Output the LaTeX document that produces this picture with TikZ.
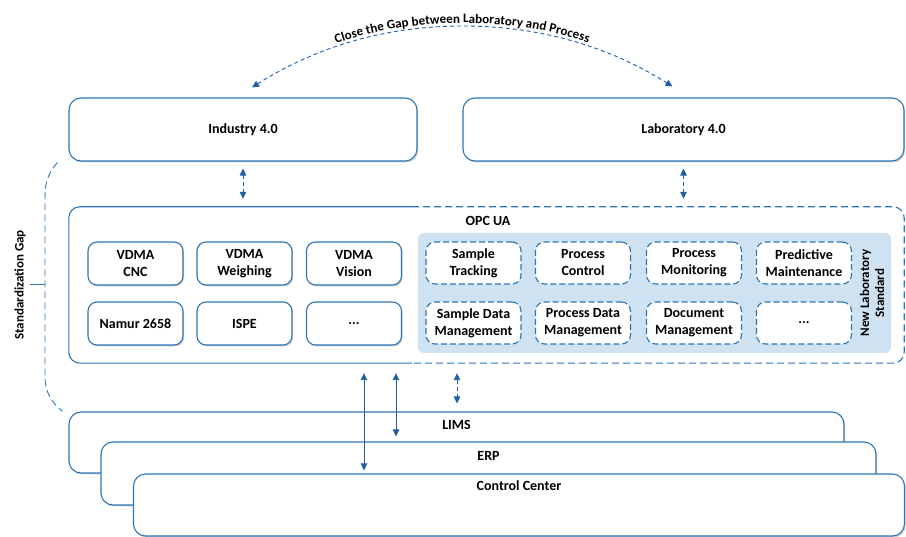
\documentclass[tikz,border=0pt]{standalone}
\usepackage{fontspec}
\setmainfont{Carlito}
\usetikzlibrary{arrows.meta,decorations.text,shadows,calc}
\definecolor{lineblue}{RGB}{46,117,182}
\definecolor{arrowblue}{RGB}{31,95,168}
\definecolor{panelblue}{RGB}{206,226,242}
\begin{document}
\begin{tikzpicture}[x=1pt,y=-1pt,
  every node/.style={font=\bfseries\fontsize{14}{17}\selectfont, text=black},
  boxline/.style={draw=lineblue, line width=1.1pt},
  softshadow/.style={drop shadow={shadow xshift=1.2pt, shadow yshift=-1.5pt, fill=black, opacity=0.18}},
  bigbox/.style={boxline, fill=white, rounded corners=12pt, inner sep=0pt, softshadow},
  smallbox/.style={boxline, fill=white, rounded corners=9pt, align=center, minimum width=95pt, minimum height=43pt, inner sep=0pt, softshadow},
  dashbox/.style={boxline, fill=white, rounded corners=9pt, align=center, minimum width=95pt, minimum height=42pt, inner sep=0pt, dash pattern=on 6pt off 3pt},
  tip/.tip={Triangle[length=7pt,width=6.5pt]},
  biarrow/.style={draw=arrowblue, line width=0.9pt, tip-tip},
  dbiarrow/.style={biarrow, dash pattern=on 4pt off 3pt},
  gapline/.style={draw=lineblue, line width=0.9pt, dash pattern=on 7pt off 4pt},
  sidelabel/.style={rotate=90, font=\bfseries\fontsize{13}{15}\selectfont, align=center}
]
\useasboundingbox (0,0) rectangle (906,537);

% top boxes
\node[bigbox, minimum width=348pt, minimum height=63pt] (ind) at (243,129.5) {Industry 4.0};
\node[bigbox, minimum width=441pt, minimum height=63pt] (lab) at (683.5,129.5) {Laboratory 4.0};

% OPC UA frame
\node[inner sep=0pt, minimum width=835pt, minimum height=156pt] (opc) at (486.5,285) {};
\coordinate (split) at (412,0);
\draw[boxline, rounded corners=11pt] (opc.north -| split) -- (opc.north west) -- (opc.south west) -- (opc.south -| split);
\draw[boxline, rounded corners=11pt, dash pattern=on 7pt off 4pt] (opc.north -| split) -- (opc.north east) -- (opc.south east) -- (opc.south -| split);
\node (opclbl) at (488,221) {OPC UA};

% blue panel
\node[fill=panelblue, rounded corners=6pt, minimum width=473pt, minimum height=120pt, inner sep=0pt] (panel) at (654.5,293) {};

% industry standards
\node[smallbox] (cnc) at (135.5,263.5) {VDMA\\CNC};
\node[smallbox] (weigh) at (244.5,263.5) {VDMA\\Weighing};
\node[smallbox] (vision) at (354,263.5) {VDMA\\Vision};
\node[smallbox] (namur) at (135.5,323.5) {Namur 2658};
\node[smallbox] (ispe) at (244.5,323.5) {ISPE};
\node[smallbox] (idots) at (354,323.5) {...};

% laboratory standards
\node[dashbox] (track) at (473.5,263) {Sample\\Tracking};
\node[dashbox] (pctrl) at (583,263) {Process\\Control};
\node[dashbox] (pmon) at (694,263) {Process\\Monitoring};
\node[dashbox] (pred) at (804,263) {Predictive\\Maintenance};
\node[dashbox] (sdm) at (473.5,323) {Sample Data\\Management};
\node[dashbox] (pdm) at (583,323) {Process Data\\Management};
\node[dashbox] (dm) at (694,323) {Document\\Management};
\node[dashbox] (ldots) at (804,323) {...};
\node[sidelabel] (nls) at (872,293) {New Laboratory\\Standard};

% bottom stacked boxes
\node[bigbox, minimum width=775pt, minimum height=61pt, label={[anchor=north, yshift=-5pt]north:LIMS}] (lims) at (456.5,442.5) {};
\node[bigbox, minimum width=775pt, minimum height=63pt, label={[anchor=north, yshift=-6pt]north:ERP}] (erp) at (488.5,473.5) {};
\node[bigbox, minimum width=771pt, minimum height=62pt, label={[anchor=north, yshift=-4pt]north:Control Center}] (cc) at (519,505) {};

% vertical arrows
\draw[dbiarrow, shorten <=7pt, shorten >=8pt] (ind.south) -- (ind.south |- opc.north);
\draw[dbiarrow, shorten <=7pt, shorten >=8pt] (lab.south) -- (lab.south |- opc.north);
\coordinate (xa) at (364,0);
\coordinate (xb) at (396,0);
\coordinate (xc) at (457,0);
\draw[biarrow, shorten <=10pt, shorten >=3pt] (opc.south -| xa) -- (cc.north -| xa);
\draw[biarrow, shorten <=10pt, shorten >=5pt] (opc.south -| xb) -- (erp.north -| xb);
\draw[dbiarrow, shorten <=10pt, shorten >=8pt] (opc.south -| xc) -- (lims.north -| xc);

% close the gap arc
\coordinate (gapL) at ($(ind.north)+(9,-10)$);
\coordinate (gapR) at ($(lab.north)+(-11,-11)$);
\coordinate (gapTop) at (463,26);
\draw[dbiarrow] (gapL) .. controls +(68,-43) and +(-73,0) .. (gapTop) .. controls +(73,0) and +(-67,-42) .. (gapR);
\path[decorate, decoration={text along path, text align=center, raise=3pt,
  text={|\bfseries\fontsize{13}{15}\selectfont|Close the Gap between Laboratory and Process}}]
  (gapL) .. controls +(68,-43) and +(-73,0) .. (gapTop) .. controls +(73,0) and +(-67,-42) .. (gapR);

% standardization gap bracket
\coordinate (brTop) at ($(ind.south west)+(-11,1)$);
\coordinate (brBot) at ($(lims.north west)+(-6,0)$);
\coordinate (brMid) at (45,284);
\draw[gapline] (brTop) .. controls +(-9,10) and +(0,-15) .. (45,197) -- (45,377) .. controls +(0,15) and +(-11,-9) .. (brBot);
\draw[lineblue, line width=0.9pt] (brMid) -- ++(-15,0);
\node[sidelabel] (sglbl) at (20,285) {Standardization Gap};
\end{tikzpicture}
\end{document}
